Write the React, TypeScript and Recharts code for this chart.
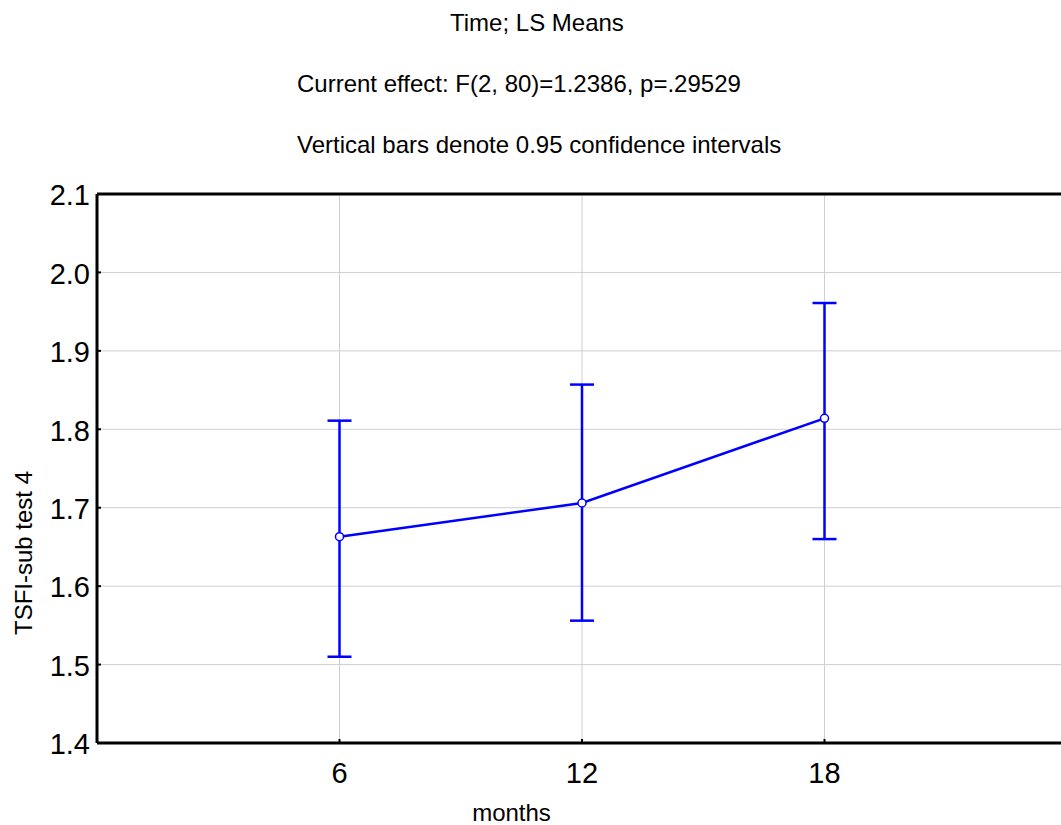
import React from "react";
import {
  LineChart,
  Line,
  XAxis,
  YAxis,
  CartesianGrid,
  ErrorBar,
  ReferenceLine,
} from "recharts";

// values
const months = [6, 12, 18];
const lsMeans = [1.663, 1.706, 1.814];
const ciLower = [1.51, 1.556, 1.66];
const ciUpper = [1.811, 1.857, 1.961];

const xTicks = [6, 12, 18];
const yTicks = [1.4, 1.5, 1.6, 1.7, 1.8, 1.9, 2.0, 2.1];

const titleLines = [
  "Time; LS Means",
  "Current effect: F(2, 80)=1.2386, p=.29529",
  "Vertical bars denote 0.95 confidence intervals",
];

const data = months.map((m, i) => ({
  month: m,
  mean: lsMeans[i],
  ci: [lsMeans[i] - ciLower[i], ciUpper[i] - lsMeans[i]],
}));

const FONT = "Arial, 'Liberation Sans', Helvetica, sans-serif";
const BLUE = "#0000ff";

export default function App() {
  return (
    <div
      style={{
        position: "absolute",
        left: 0,
        top: 0,
        width: 1061,
        height: 825,
        overflow: "hidden",
        background: "#fff",
        fontFamily: FONT,
      }}
    >
      <LineChart
        width={1080}
        height={825}
        data={data}
        margin={{ top: 194, right: 13, bottom: 0, left: 0 }}
      >
        <CartesianGrid stroke="#cfcfcf" strokeWidth={1} />
        <XAxis
          dataKey="month"
          type="number"
          domain={[0, 24]}
          ticks={xTicks}
          interval={0}
          height={82}
          tickSize={-4}
          tickMargin={23}
          axisLine={{ stroke: "#000", strokeWidth: 3 }}
          tickLine={{ stroke: "#000", strokeWidth: 2 }}
          tick={{ fontSize: 29, fill: "#000", fontFamily: FONT }}
        />
        <YAxis
          type="number"
          domain={[1.4, 2.1]}
          ticks={yTicks}
          interval={0}
          width={97}
          tickSize={-4}
          tickMargin={11}
          tickFormatter={(v: number) => v.toFixed(1)}
          axisLine={{ stroke: "#000", strokeWidth: 3 }}
          tickLine={{ stroke: "#000", strokeWidth: 2 }}
          tick={{ fontSize: 29, fill: "#000", fontFamily: FONT, dy: 1 }}
        />
        <ReferenceLine y={2.1} stroke="#000" strokeWidth={3} />
        <ReferenceLine x={24} stroke="#000" strokeWidth={3} />
        <Line
          dataKey="mean"
          stroke={BLUE}
          strokeWidth={2.5}
          dot={{ r: 4, fill: "#fff", stroke: BLUE, strokeWidth: 1.5 }}
          activeDot={false}
          isAnimationActive={false}
        >
          <ErrorBar
            dataKey="ci"
            direction="y"
            width={12}
            stroke={BLUE}
            strokeWidth={2.5}
            isAnimationActive={false}
          />
        </Line>
      </LineChart>

      <svg
        width={1061}
        height={825}
        style={{ position: "absolute", left: 0, top: 0, pointerEvents: "none" }}
        fontFamily={FONT}
        fill="#000"
      >
        <text x={450} y={30.5} fontSize={24}>
          {titleLines[0]}
        </text>
        <text x={297} y={91.5} fontSize={24}>
          {titleLines[1]}
        </text>
        <text x={297} y={152.5} fontSize={24}>
          {titleLines[2]}
        </text>
        <text x={511.5} y={821} fontSize={24} textAnchor="middle">
          months
        </text>
        <text
          x={32}
          y={553}
          fontSize={24}
          textAnchor="middle"
          transform="rotate(-90, 32, 553)"
        >
          TSFI-sub test 4
        </text>
      </svg>
    </div>
  );
}
